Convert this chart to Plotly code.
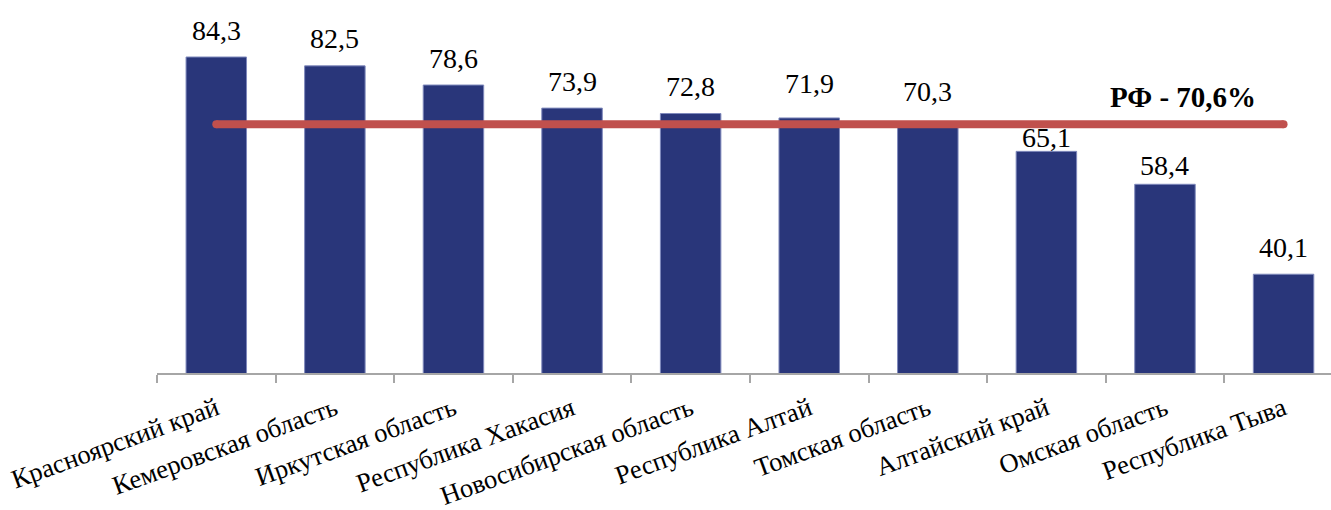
import plotly.graph_objects as go

# ---- data ----
regions = [
    "Красноярский край",
    "Кемеровская область",
    "Иркутская область",
    "Республика Хакасия",
    "Новосибирская область",
    "Республика Алтай",
    "Томская область",
    "Алтайский край",
    "Омская область",
    "Республика Тыва",
]
values = [84.3, 82.5, 78.6, 73.9, 72.8, 71.9, 70.3, 65.1, 58.4, 40.1]
rf_value = 70.6
rf_label = "РФ - 70,6%"

# ---- styling ----
BAR_COLOR = "#29367A"
LINE_COLOR = "#C0504D"
FONT = "Liberation Serif, Times New Roman, serif"
LABEL_SHIFT = 27  # px above bar top (label centre)
label_shift_override = {5: 34, 6: 34, 7: 14, 8: 19}


def fmt(v):
    return f"{v:.1f}".replace(".", ",")


fig = go.Figure()
fig.add_trace(go.Bar(
    x=regions, y=values,
    marker=dict(color=BAR_COLOR, line=dict(color="#7F89BC", width=1)),
    showlegend=False, hoverinfo="skip",
))
fig.add_trace(go.Scatter(
    x=[regions[0], regions[-1]], y=[rf_value, rf_value],
    mode="lines+markers",
    line=dict(color=LINE_COLOR, width=8),
    marker=dict(color=LINE_COLOR, size=8, line=dict(width=0)),
    showlegend=False, hoverinfo="skip", cliponaxis=False,
))

annotations = []
for i, (r, v) in enumerate(zip(regions, values)):
    annotations.append(dict(
        x=r, y=v, xref="x", yref="y", text=fmt(v), showarrow=False,
        yanchor="middle", xanchor="center",
        yshift=label_shift_override.get(i, LABEL_SHIFT),
        font=dict(family=FONT, size=28, color="black"),
    ))
annotations.append(dict(
    x=8.15, y=rf_value, xref="x", yref="y", text=f"<b>{rf_label}</b>",
    showarrow=False, yanchor="middle", xanchor="center", yshift=27,
    font=dict(family=FONT, size=29, color="black"),
))

fig.update_layout(
    width=1331, height=510,
    margin=dict(l=157, r=0, t=29, b=137, autoexpand=False),
    plot_bgcolor="white", paper_bgcolor="white",
    bargap=0.49,
    annotations=annotations,
    font=dict(family=FONT, color="black"),
)
fig.update_xaxes(
    type="category", range=[-0.5, 9.4], automargin=False,
    showline=True, linecolor="#A6A6A6", linewidth=2,
    ticks="outside", tickson="boundaries", ticklen=8, tickcolor="#A6A6A6", tickwidth=2,
    tickangle=-20, ticklabelstandoff=8,
    tickfont=dict(family=FONT, size=26.5, color="black"),
    showgrid=False, zeroline=False,
)
fig.update_yaxes(range=[20, 90], visible=False, showgrid=False, zeroline=False,
                 automargin=False)

fig.write_html(
    "out.html",
    config={"displayModeBar": False},
    post_script="document.body.style.margin='0';document.body.style.overflow='hidden';",
)
